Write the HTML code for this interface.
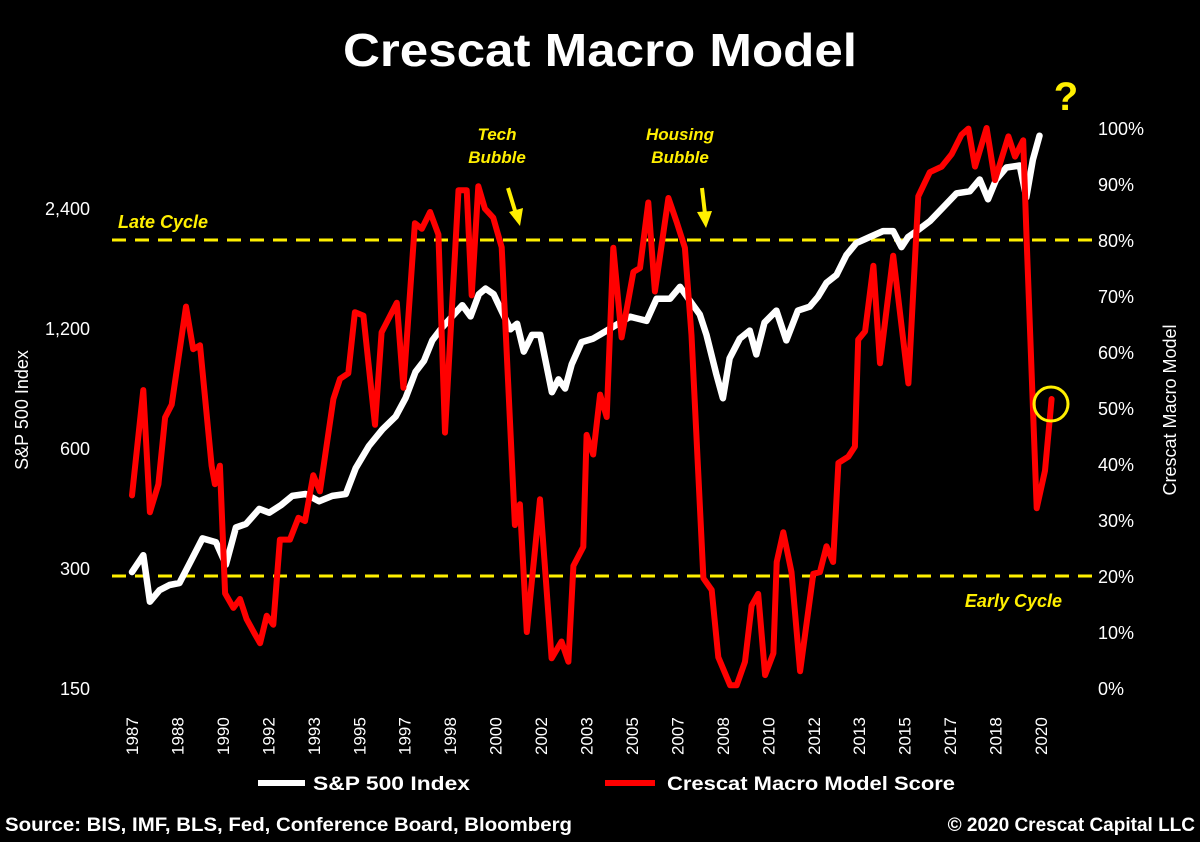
<!DOCTYPE html>
<html><head><meta charset="utf-8"><style>
html,body{margin:0;padding:0;background:#000;}
svg{display:block;font-family:"Liberation Sans",sans-serif;}
</style></head><body>
<svg id="chart" width="1200" height="842" viewBox="0 0 1200 842">
<rect x="0" y="0" width="1200" height="842" fill="#000"/>
<text x="343" y="66" font-size="46" font-weight="bold" fill="#fff" textLength="514" lengthAdjust="spacingAndGlyphs">Crescat Macro Model</text>
<text x="1066" y="110" text-anchor="middle" font-size="40" font-weight="bold" fill="#ffef00">?</text>
<text x="28" y="410" transform="rotate(-90 28 410)" text-anchor="middle" font-size="18" fill="#fff">S&amp;P 500 Index</text>
<text x="1176" y="410" transform="rotate(-90 1176 410)" text-anchor="middle" font-size="18" fill="#fff">Crescat Macro Model</text>
<g id="leftTicks"></g><g id="rightTicks"></g><g id="xTicks"></g>
<line x1="112" y1="240" x2="1095" y2="240" stroke="#ffef00" stroke-width="3" stroke-dasharray="14 9"/>
<line x1="112" y1="576" x2="1095" y2="576" stroke="#ffef00" stroke-width="3" stroke-dasharray="14 9"/>
<text x="118" y="228" font-size="18" font-weight="bold" font-style="italic" fill="#ffef00">Late Cycle</text>
<text x="1062" y="607" text-anchor="end" font-size="18" font-weight="bold" font-style="italic" fill="#ffef00">Early Cycle</text>
<text x="497" y="140" text-anchor="middle" font-size="17" font-weight="bold" font-style="italic" fill="#ffef00"><tspan x="497">Tech</tspan><tspan x="497" dy="23">Bubble</tspan></text>
<text x="680" y="140" text-anchor="middle" font-size="17" font-weight="bold" font-style="italic" fill="#ffef00"><tspan x="680">Housing</tspan><tspan x="680" dy="23">Bubble</tspan></text>
<g><line x1="508" y1="188" x2="516" y2="214" stroke="#ffef00" stroke-width="4"/><polygon points="509,212 523,208 520,226" fill="#ffef00"/></g>
<g><line x1="702" y1="188" x2="705" y2="214" stroke="#ffef00" stroke-width="4"/><polygon points="697,212 712,211 706,228" fill="#ffef00"/></g>
<g id="series"></g>
<circle cx="1051" cy="404" r="17" fill="none" stroke="#ffef00" stroke-width="3"/>
<line x1="258" y1="783" x2="305" y2="783" stroke="#fff" stroke-width="6"/>
<text x="313" y="790" font-size="19" font-weight="bold" fill="#fff" textLength="157" lengthAdjust="spacingAndGlyphs">S&amp;P 500 Index</text>
<line x1="605" y1="783" x2="655" y2="783" stroke="#ff0000" stroke-width="6"/>
<text x="667" y="790" font-size="19" font-weight="bold" fill="#fff" textLength="288" lengthAdjust="spacingAndGlyphs">Crescat Macro Model Score</text>
<text x="5" y="831" font-size="19" font-weight="bold" fill="#fff" textLength="567" lengthAdjust="spacingAndGlyphs">Source: BIS, IMF, BLS, Fed, Conference Board, Bloomberg</text>
<text x="1195" y="831" text-anchor="end" font-size="19" font-weight="bold" fill="#fff">© 2020 Crescat Capital LLC</text>
</svg>
<script>
const xLabels = ["1987","1988","1990","1992","1993","1995","1997","1998","2000","2002","2003","2005","2007","2008","2010","2012","2013","2015","2017","2018","2020"];
const leftTickValues = [150,300,600,1200,2400];
const leftTickLabels = ["150","300","600","1,200","2,400"];
const rightTickValues = [0,10,20,30,40,50,60,70,80,90,100];
const spYears = [1987.0,1987.41,1987.65,1988.0,1988.36,1988.72,1989.14,1989.56,1990.05,1990.41,1990.77,1991.14,1991.62,1991.98,1992.4,1992.82,1993.3,1993.79,1994.27,1994.76,1995.12,1995.6,1996.09,1996.57,1996.93,1997.29,1997.6,1997.9,1998.26,1998.62,1998.99,1999.29,1999.59,1999.83,2000.13,2000.38,2000.74,2000.98,2001.22,2001.52,2001.82,2002.24,2002.48,2002.72,2002.96,2003.32,2003.74,2003.99,2004.47,2005.08,2005.68,2006.04,2006.53,2006.89,2007.25,2007.61,2007.85,2008.21,2008.45,2008.69,2009.06,2009.42,2009.66,2009.96,2010.39,2010.75,2011.17,2011.6,2011.9,2012.21,2012.57,2012.93,2013.29,2013.78,2014.26,2014.63,2014.93,2015.17,2015.48,2015.96,2016.44,2016.93,2017.41,2017.77,2018.07,2018.37,2018.74,2019.22,2019.46,2019.7,2019.94,2020.38];
const spValues = [293,323,247,264,272,275,313,356,348,306,379,387,422,413,431,455,460,441,455,460,534,607,668,720,801,931,993,1117,1204,1283,1369,1283,1459,1507,1459,1340,1191,1230,1047,1153,1153,828,892,846,973,1106,1129,1155,1209,1281,1251,1421,1421,1522,1405,1297,1155,919,800,1007,1129,1182,1030,1238,1327,1117,1327,1357,1437,1558,1631,1828,1960,2030,2100,2100,1915,2030,2100,2224,2409,2613,2643,2830,2524,2830,3033,3067,2553,3175,3643];
const macroYears = [1987.0,1987.41,1987.65,1987.96,1988.2,1988.44,1988.96,1989.22,1989.47,1989.89,1990.01,1990.19,1990.38,1990.68,1990.92,1991.16,1991.46,1991.65,1991.89,1992.13,1992.37,1992.73,1993.04,1993.28,1993.58,1993.82,1994.31,1994.55,1994.85,1995.09,1995.4,1995.82,1996.06,1996.3,1996.61,1996.85,1997.27,1997.52,1997.82,1998.12,1998.36,1998.85,1999.15,1999.33,1999.57,1999.81,2000.11,2000.42,2000.9,2001.08,2001.33,2001.81,2002.23,2002.59,2002.84,2003.02,2003.38,2003.5,2003.74,2003.99,2004.23,2004.47,2004.77,2005.2,2005.44,2005.74,2005.98,2006.47,2006.77,2007.07,2007.31,2007.74,2008.04,2008.28,2008.71,2008.95,2009.25,2009.49,2009.73,2009.98,2010.28,2010.4,2010.64,2010.94,2011.25,2011.73,2011.97,2012.21,2012.45,2012.64,2013.0,2013.24,2013.36,2013.61,2013.91,2014.15,2014.63,2015.18,2015.54,2015.96,2016.39,2016.75,2017.11,2017.36,2017.6,2018.02,2018.32,2018.81,2019.05,2019.35,2019.47,2019.84,2020.14,2020.38];
const macroValues = [34.4,53.2,31.4,36.4,48.3,50.6,68.1,60.5,61.2,39.7,36.4,39.7,16.9,14.3,15.9,12.3,9.6,8.0,12.9,11.3,26.5,26.5,30.4,29.8,38.0,35.1,51.6,55.2,56.2,67.1,66.5,47.0,63.5,65.8,68.8,53.6,83.0,82.0,85.0,81.0,45.6,88.9,88.9,70.1,89.6,85.6,84.0,78.7,29.1,32.8,10.0,33.7,5.3,8.3,4.7,21.8,25.2,45.2,41.7,52.4,48.4,78.6,62.6,74.3,75.0,86.7,70.8,87.5,83.2,78.6,63.0,19.6,17.5,5.5,0.5,0.5,4.7,14.7,16.8,2.3,6.2,22.5,27.8,20.7,3.0,20.4,20.7,25.3,22.5,40.2,41.3,43.1,62.2,63.7,75.4,58.0,77.2,54.4,87.8,92.1,93.1,95.3,98.8,99.9,93.1,100,90.7,98.5,94.9,97.8,80.7,32.1,38.8,51.6];

const NS = "http://www.w3.org/2000/svg";
function xScale(t){ return 132 + (t - 1987) * 27.55; }
function yLeft(v){ return 688 - 120 * Math.log2(v / 150); }
function yRight(p){ return 688 - p * 5.6; }
function mk(tag, attrs, parent){ const e = document.createElementNS(NS, tag); for (const k in attrs) e.setAttribute(k, attrs[k]); parent.appendChild(e); return e; }

const lt = document.getElementById('leftTicks');
leftTickValues.forEach((v, i) => {
  const t = mk('text', {x: 90, y: yLeft(v) + 7, 'text-anchor': 'end', 'font-size': 18, fill: '#fff'}, lt);
  t.textContent = leftTickLabels[i];
  
  
});
const rt = document.getElementById('rightTicks');
rightTickValues.forEach(p => {
  const t = mk('text', {x: 1098, y: yRight(p) + 7, 'font-size': 18, fill: '#fff'}, rt);
  t.textContent = p + '%';
  
  
});
const xt = document.getElementById('xTicks');
xLabels.forEach((lab, i) => {
  const x = 132 + i * (909 / (xLabels.length - 1)) + 6;
  const t = mk('text', {x: x, y: 755, transform: 'rotate(-90 ' + x + ' 755)', 'font-size': 17, fill: '#fff'}, xt);
  t.textContent = lab;
  
  
});

const sg = document.getElementById('series');
const spPts = spYears.map((t, i) => xScale(t).toFixed(1) + ',' + yLeft(spValues[i]).toFixed(1)).join(' ');
const sp = mk('polyline', {points: spPts, fill: 'none', stroke: '#fff', 'stroke-width': 6.5, 'stroke-linejoin': 'round', 'stroke-linecap': 'round'}, sg);


const mPts = macroYears.map((t, i) => xScale(t).toFixed(1) + ',' + yRight(macroValues[i]).toFixed(1)).join(' ');
const ml = mk('polyline', {points: mPts, fill: 'none', stroke: '#ff0000', 'stroke-width': 6, 'stroke-linejoin': 'round', 'stroke-linecap': 'round'}, sg);


</script>
</body></html>
